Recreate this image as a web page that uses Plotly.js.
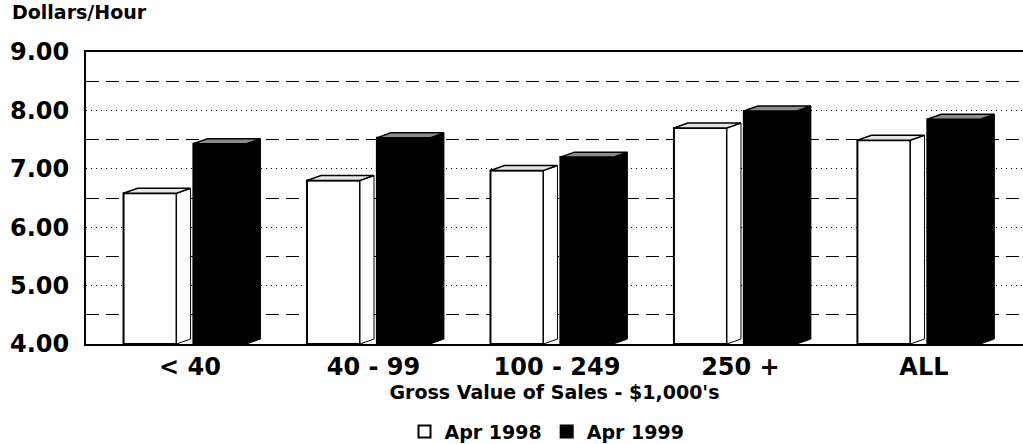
<!DOCTYPE html>
<html>
<head>
<meta charset="utf-8">
<script src="https://cdn.plot.ly/plotly-3.0.1.min.js"></script>
<style>html,body{margin:0;padding:0;background:#fff;}#chart{width:1023px;height:444px;}</style>
</head>
<body>
<div id="chart"></div>
<script>
// ---- data ----
const categories = ['< 40', '40 - 99', '100 - 249', '250 +', 'ALL'];
const apr1998 = [6.58, 6.80, 6.97, 7.70, 7.49];
const apr1999 = [7.43, 7.53, 7.20, 7.99, 7.85];
const seriesNames = ['Apr 1998', 'Apr 1999'];
const yTicks = [4, 5, 6, 7, 8, 9];
const yHalfTicks = [4.5, 5.5, 6.5, 7.5, 8.5];

// ---- style constants ----
const W = 0.289, DX = 0.0763, DY = 0.0855, BASE = 4;
const OFF = [-0.218, 0.163];
const FRONT = ['#ffffff', '#000000'];
const TOP = ['#e6e6e6', '#8c8c8c'];
const SIDE = ['#ffffff', '#000000'];
const FONT = 'DejaVu Sans';

const pos = categories.map((c, i) => i);
const allSeries = [apr1998, apr1999];

const traces = [];
allSeries.forEach((vals, s) => {
  traces.push({
    type: 'bar',
    name: seriesNames[s],
    x: pos.map(p => p + OFF[s]),
    y: vals.map(v => v - BASE),
    base: BASE,
    width: W,
    marker: {color: FRONT[s], line: {color: '#000', width: 2}},
    hoverinfo: 'skip',
    showlegend: true
  });
});
allSeries.forEach((vals, s) => {
  vals.forEach((v, i) => {
    const xl = pos[i] + OFF[s] - W / 2, xr = pos[i] + OFF[s] + W / 2;
    traces.push({
      type: 'scatter', mode: 'lines', fill: 'toself', fillcolor: SIDE[s],
      x: [xr, xr + DX, xr + DX, xr, xr],
      y: [BASE, BASE + DY, v + DY, v, BASE],
      line: {color: '#000', width: 1}, showlegend: false, hoverinfo: 'skip'
    });
    traces.push({
      type: 'scatter', mode: 'lines', fill: 'toself', fillcolor: TOP[s],
      x: [xl, xl + DX, xr + DX, xr, xl],
      y: [v, v + DY, v + DY, v, v],
      line: {color: '#000', width: 1.5}, showlegend: false, hoverinfo: 'skip'
    });
  });
});

const layout = {
  width: 1023, height: 444,
  margin: {l: 86, r: 0, t: 52, b: 100},
  paper_bgcolor: '#fff', plot_bgcolor: '#fff',
  showlegend: true,
  barmode: 'overlay',
  font: {family: FONT, color: '#000'},
  xaxis: {
    range: [-0.567, 4.54],
    tickvals: pos, ticktext: categories,
    tickfont: {family: FONT, size: 24, weight: 'bold'},
    showgrid: false, zeroline: false, automargin: false,
    showline: true, linecolor: '#000', linewidth: 2, mirror: true,
    ticks: '',
    title: {text: "Gross Value of Sales - $1,000's", font: {family: FONT, size: 19, weight: 'bold'}, standoff: 6}
  },
  yaxis: {
    range: [4, 9],
    tickvals: yTicks,
    tickformat: '.2f',
    tickfont: {family: FONT, size: 24, weight: 'bold'},
    showgrid: true, gridcolor: '#000', gridwidth: 1, griddash: '1px,4px',
    minor: {tickmode: 'array', tickvals: yHalfTicks, showgrid: true, gridcolor: '#000', gridwidth: 1, griddash: '13px,7px'},
    zeroline: false, automargin: false,
    showline: true, linecolor: '#000', linewidth: 2,
    ticks: '', ticklabelstandoff: 10
  },
  legend: {
    orientation: 'h', x: 0.492, xanchor: 'center',
    yref: 'container', y: 0.028, yanchor: 'middle',
    font: {family: FONT, size: 19, weight: 'bold'},
    traceorder: 'normal'
  },
  annotations: [{
    text: 'Dollars/Hour', showarrow: false,
    xref: 'paper', yref: 'paper', x: -0.081, y: 1.137,
    xanchor: 'left', yanchor: 'middle',
    font: {family: FONT, size: 19, weight: 'bold'}
  }]
};

Plotly.newPlot('chart', traces, layout, {staticPlot: true, displayModeBar: false});
</script>
</body>
</html>
